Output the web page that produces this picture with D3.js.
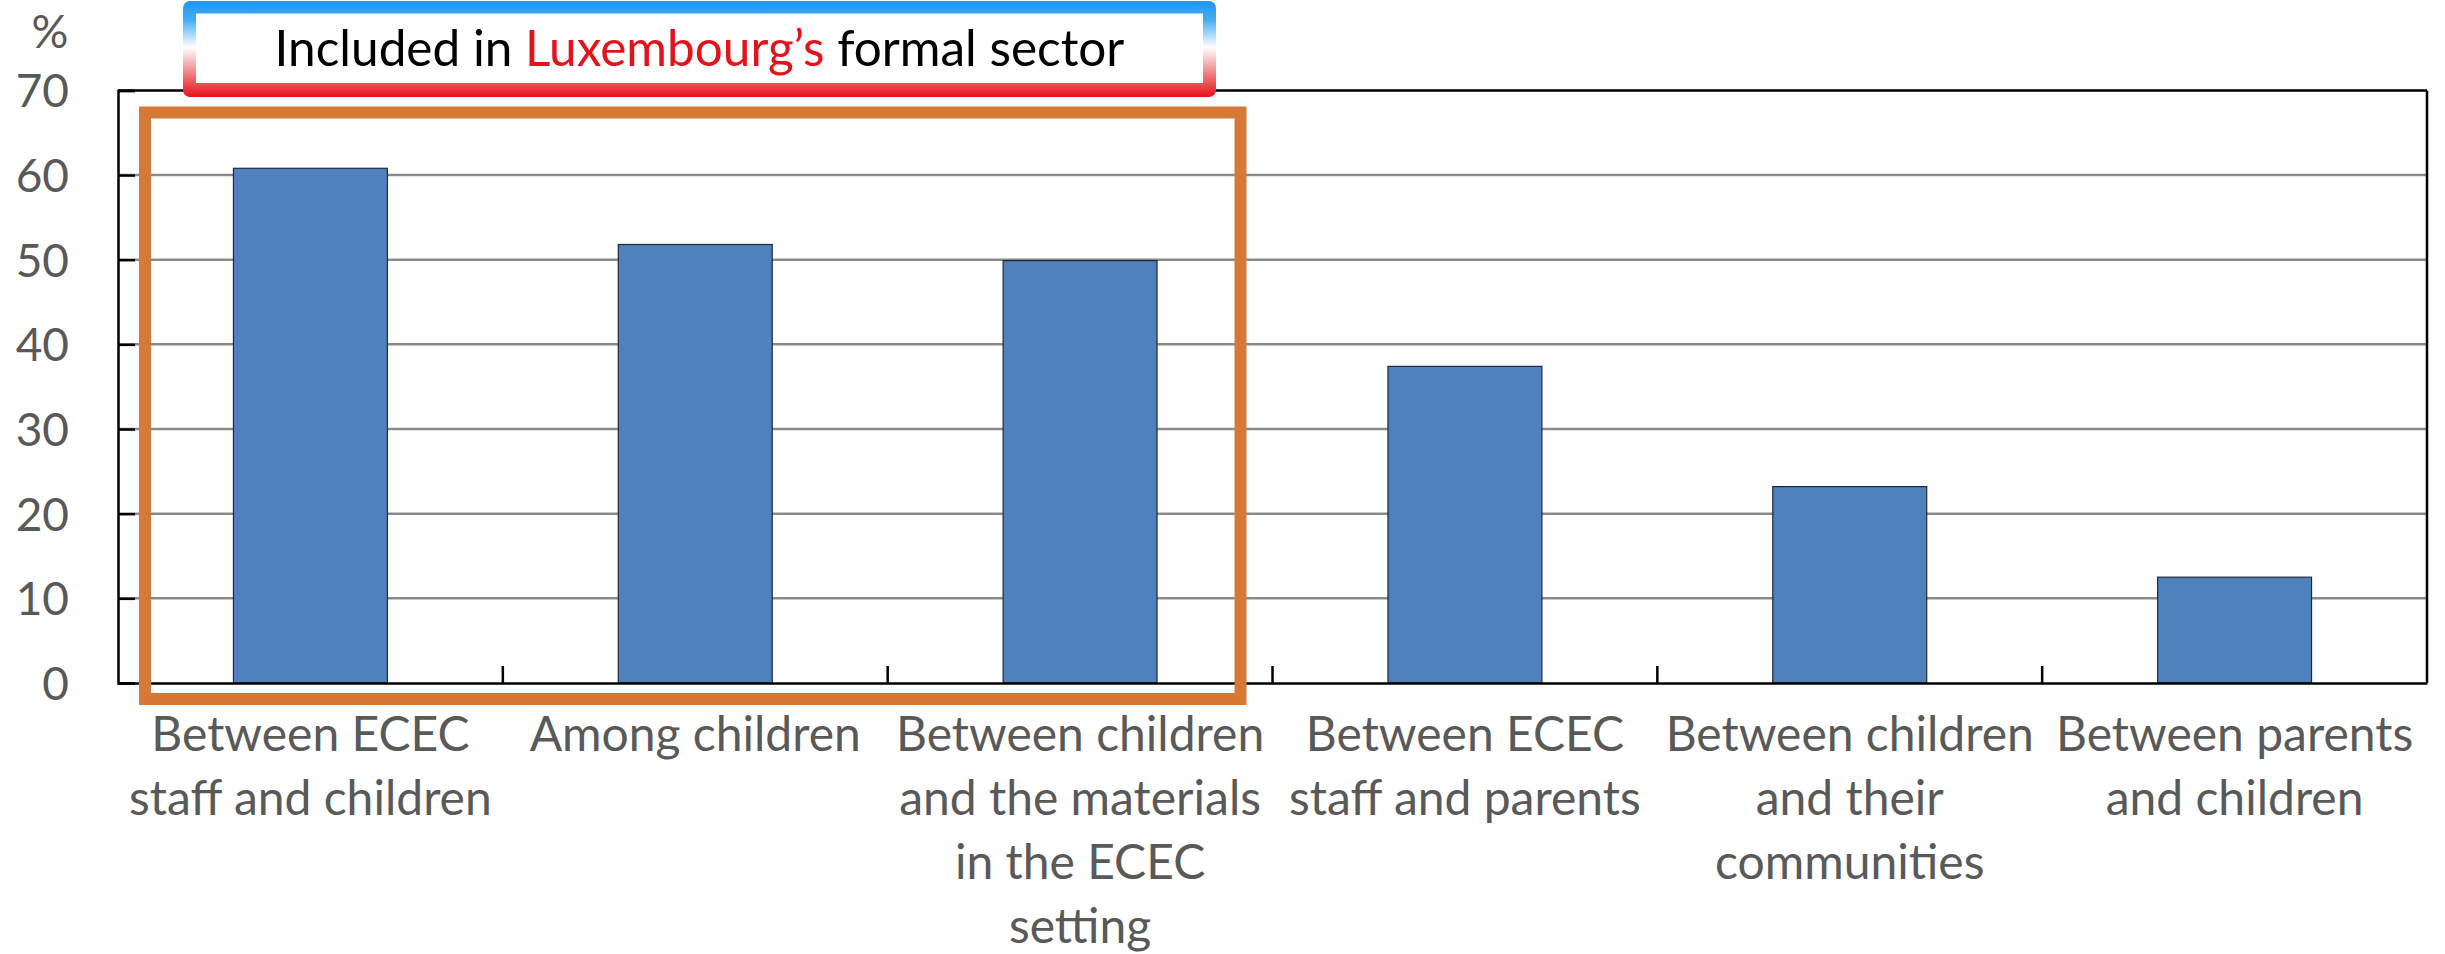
<!DOCTYPE html>
<html>
<head>
<meta charset="utf-8">
<script src="https://cdn.jsdelivr.net/npm/d3@7"></script>
<style>
  html, body { margin: 0; padding: 0; background: #fff; }
  svg { display: block; }
  text { font-family: Lato, "Open Sans", sans-serif; }
</style>
</head>
<body>
<svg id="chart" width="2445" height="954"></svg>
<script>
// ---- Data ----
const categories = [
  "Between ECEC staff and children",
  "Among children",
  "Between children and the materials in the ECEC setting",
  "Between ECEC staff and parents",
  "Between children and their communities",
  "Between parents and children"
];
const categoryLines = [
  ["Between ECEC", "staff and children"],
  ["Among children"],
  ["Between children", "and the materials", "in the ECEC", "setting"],
  ["Between ECEC", "staff and parents"],
  ["Between children", "and their", "communities"],
  ["Between parents", "and children"]
];
const values = [60.8, 51.8, 49.9, 37.4, 23.2, 12.5];
const yTicks = [0, 10, 20, 30, 40, 50, 60, 70];
const yUnit = "%";
const titleParts = [
  { text: "Included in ", color: "#000000" },
  { text: "Luxembourg\u2019s", color: "#E3121B" },
  { text: " formal sector", color: "#000000" }
];
const highlightedCount = 3;

// ---- Layout ----
const W = 2445, H = 954;
const plot = { left: 118, right: 2427, top: 90.4, bottom: 683 };
const svg = d3.select("#chart");

const y = d3.scaleLinear().domain([0, 70]).range([plot.bottom, plot.top]);
const x = d3.scaleBand().domain(categories).range([plot.left, plot.right])
  .paddingInner(0.6).paddingOuter(0.3);

const labelColor = "#595959";
const fontSize = 46;
const xFontSize = 48;

// Gridlines
svg.append("g").selectAll("line")
  .data(yTicks.filter(t => t > 0 && t < 70))
  .join("line")
  .attr("x1", plot.left).attr("x2", plot.right)
  .attr("y1", d => y(d)).attr("y2", d => y(d))
  .attr("stroke", "#8a8a8a").attr("stroke-width", 2.5);

// Bars
svg.append("g").selectAll("rect")
  .data(values)
  .join("rect")
  .attr("x", (d, i) => x(categories[i]))
  .attr("width", x.bandwidth())
  .attr("y", d => y(d))
  .attr("height", d => y(0) - y(d))
  .attr("fill", "#4F81BD")
  .attr("stroke", "#1f2a38")
  .attr("stroke-width", 1.2);

// Frame top + right
svg.append("line").attr("x1", plot.left).attr("x2", plot.right)
  .attr("y1", y(70)).attr("y2", y(70)).attr("stroke", "#000").attr("stroke-width", 2.5);
svg.append("line").attr("x1", plot.right).attr("x2", plot.right)
  .attr("y1", y(70)).attr("y2", y(0)).attr("stroke", "#000").attr("stroke-width", 2.5);

// Y axis
const yAxis = svg.append("g").attr("transform", `translate(${plot.left},0)`)
  .call(d3.axisLeft(y).tickValues(yTicks).tickSize(-17).tickPadding(49).tickFormat(d3.format("d")));
yAxis.select(".domain").attr("stroke", "#000").attr("stroke-width", 2.5);
yAxis.selectAll(".tick line").attr("stroke", "#000").attr("stroke-width", 2.5);
yAxis.selectAll(".tick text")
  .attr("fill", labelColor).attr("font-size", fontSize)
  .attr("font-family", "Lato, sans-serif").attr("dy", "0.36em");

// X axis
const xAxis = svg.append("g").attr("transform", `translate(0,${plot.bottom})`)
  .call(d3.axisBottom(x).tickSize(0).tickFormat(""));
xAxis.select(".domain").attr("stroke", "#000").attr("stroke-width", 2.5);
xAxis.selectAll(".tick text").remove();

// X boundary ticks (inside, pointing up)
const step = x.step();
const x0 = x.range()[0];
svg.append("g").selectAll("line")
  .data(d3.range(1, categories.length))
  .join("line")
  .attr("x1", i => x0 + i * step).attr("x2", i => x0 + i * step)
  .attr("y1", plot.bottom).attr("y2", plot.bottom - 17)
  .attr("stroke", "#000").attr("stroke-width", 2.5);

// X labels (multi-line)
const xl = svg.append("g").selectAll("text")
  .data(categories)
  .join("text")
  .attr("text-anchor", "middle")
  .attr("fill", labelColor)
  .attr("font-size", xFontSize)
  .attr("x", d => x(d) + x.bandwidth() / 2)
  .attr("y", plot.bottom + 68);
xl.each(function(d, i) {
  const t = d3.select(this);
  categoryLines[i].forEach((line, j) => {
    t.append("tspan")
      .attr("x", x(d) + x.bandwidth() / 2)
      .attr("dy", j === 0 ? 0 : 64)
      .text(line);
  });
});

// Unit label
svg.append("text").attr("x", 50).attr("y", 48)
  .attr("text-anchor", "middle").attr("fill", labelColor)
  .attr("font-size", fontSize).text(yUnit);

// Orange highlight box around first three categories
const hbLeft = x0 + 27;
const hbRight = x0 + highlightedCount * step - 32;
svg.append("rect")
  .attr("x", hbLeft).attr("y", 112.5)
  .attr("width", hbRight - hbLeft).attr("height", 699 - 112.5)
  .attr("fill", "none").attr("stroke", "#D77936").attr("stroke-width", 12);

// Title box with gradient border
const defs = svg.append("defs");
const grad = defs.append("linearGradient").attr("id", "bord")
  .attr("x1", 0).attr("y1", 0).attr("x2", 0).attr("y2", 1);
grad.append("stop").attr("offset", "0%").attr("stop-color", "#1A96F2");
grad.append("stop").attr("offset", "20%").attr("stop-color", "#45AEF5");
grad.append("stop").attr("offset", "48%").attr("stop-color", "#FFFFFF");
grad.append("stop").attr("offset", "80%").attr("stop-color", "#EE6B6E");
grad.append("stop").attr("offset", "100%").attr("stop-color", "#E8121A");

const tb = { x: 183, y: 1, w: 1216 - 183, h: 97 - 1, b: 13 };
svg.append("rect").attr("x", tb.x).attr("y", tb.y).attr("width", tb.w).attr("height", tb.h)
  .attr("rx", 7).attr("fill", "url(#bord)");
svg.append("rect").attr("x", tb.x + tb.b).attr("y", tb.y + tb.b - 0.5)
  .attr("width", tb.w - 2 * tb.b).attr("height", tb.h - 2 * tb.b - 0.5)
  .attr("fill", "#fff");

const title = svg.append("text")
  .attr("x", tb.x + tb.w / 2).attr("y", 66)
  .attr("text-anchor", "middle").attr("font-size", 49.5);
titleParts.forEach(p => title.append("tspan").attr("fill", p.color).text(p.text));
</script>
</body>
</html>
